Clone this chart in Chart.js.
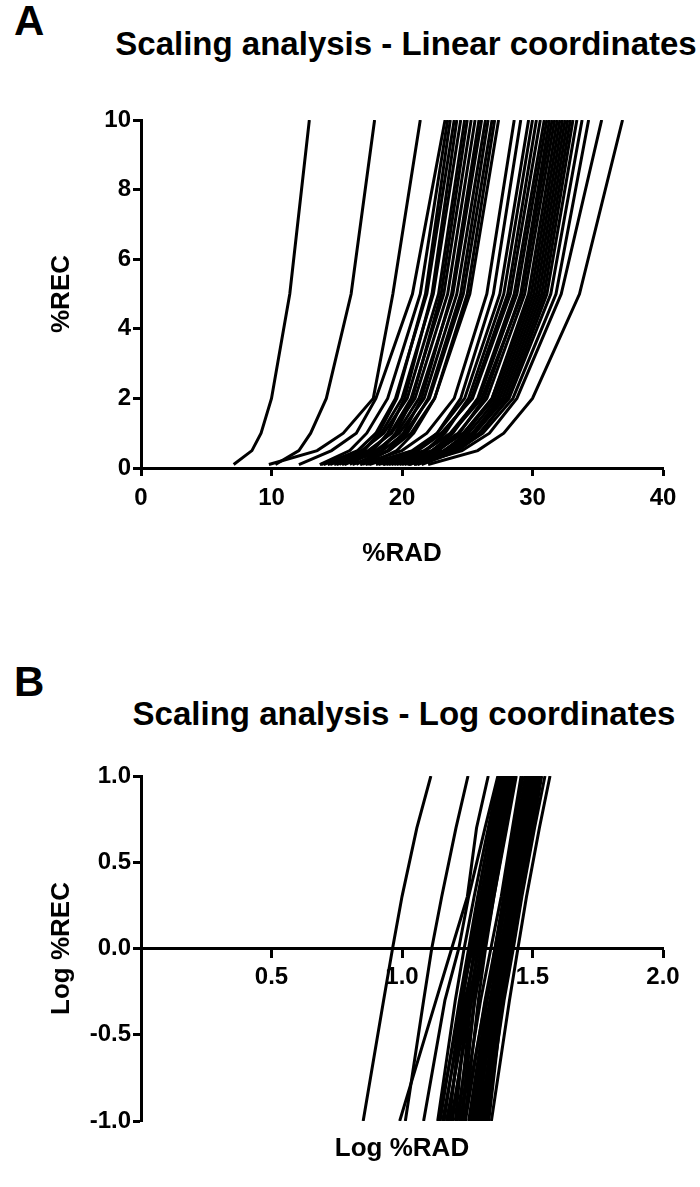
<!DOCTYPE html>
<html>
<head>
<script src="https://cdn.jsdelivr.net/npm/chart.js"></script>
<style>
  body { margin: 0; background: #fff; font-family: "Liberation Sans", Arial, sans-serif; color: #000; }
  #page { position: relative; width: 700px; height: 1187px; overflow: hidden; }
  .letter { position: absolute; left: 14px; font-weight: bold; font-size: 42px; line-height: 1; }
  .title { position: absolute; font-weight: bold; font-size: 33px; line-height: 1; white-space: nowrap; transform: translateX(-50%); }
  .box { position: absolute; left: 0; width: 700px; }
</style>
</head>
<body>
<div id="page">
  <div class="letter" style="top:0px">A</div>
  <div class="title" style="top:27px; left:406px">Scaling analysis - Linear coordinates</div>
  <div class="box" style="top:0px; height:600px"><canvas id="linear"></canvas></div>

  <div class="letter" style="top:661px">B</div>
  <div class="title" style="top:697px; left:404px">Scaling analysis - Log coordinates</div>
  <div class="box" style="top:600px; height:587px"><canvas id="log"></canvas></div>
</div>
<script>
  // %REC levels every curve was sampled at
  const recLevels = [0.1, 0.5, 1, 2, 5, 10];

  // %RAD at each level, one row per curve
  const isolatedCurves = [
    [7.1, 8.5, 9.2, 10.0, 11.4, 12.9],
    [10.3, 12.1, 13.0, 14.2, 16.1, 17.9],
    [9.8, 13.5, 15.5, 17.8, 19.3, 21.4],
    [12.1, 14.6, 16.5, 18.0, 20.8, 23.3],
  ];

  const leftBandCurves = [
    [13.7, 16.0, 17.3, 18.9, 21.4, 23.5],
    [15.2, 17.1, 18.2, 19.6, 21.8, 23.7],
    [14.0, 16.6, 18.0, 19.5, 21.9, 24.0],
    [16.0, 17.8, 18.9, 20.2, 22.3, 24.2],
    [14.5, 17.0, 18.4, 20.0, 22.4, 24.5],
    [13.8, 16.9, 18.6, 20.4, 22.8, 24.8],
    [16.5, 18.4, 19.5, 20.8, 23.0, 25.0],
    [15.0, 17.6, 19.1, 20.7, 23.2, 25.3],
    [14.3, 17.4, 19.2, 21.0, 23.5, 25.6],
    [17.0, 18.9, 20.1, 21.5, 23.8, 25.9],
    [15.6, 18.1, 19.6, 21.3, 23.9, 26.1],
    [14.8, 18.0, 19.8, 21.7, 24.2, 26.4],
    [16.8, 19.0, 20.4, 22.0, 24.5, 26.6],
    [15.4, 18.5, 20.2, 22.1, 24.7, 26.9],
    [17.4, 19.6, 20.9, 22.5, 25.0, 27.1],
    [16.2, 19.0, 20.7, 22.5, 25.2, 27.4],
  ];

  const rightBandCurves = [
    [16.8, 20.0, 21.9, 24.0, 26.5, 28.6],
    [18.5, 21.1, 22.7, 24.5, 27.0, 29.1],
    [17.5, 20.8, 22.7, 24.8, 27.5, 29.7],
    [19.2, 21.8, 23.3, 25.1, 27.8, 30.0],
    [18.0, 21.2, 23.1, 25.3, 28.1, 30.3],
    [17.2, 20.9, 23.0, 25.4, 28.3, 30.6],
    [19.6, 22.3, 23.9, 25.8, 28.6, 30.9],
    [18.6, 21.8, 23.7, 25.9, 28.8, 31.1],
    [20.2, 22.8, 24.4, 26.3, 29.1, 31.3],
    [18.2, 21.7, 23.8, 26.1, 29.2, 31.5],
    [19.0, 22.3, 24.3, 26.5, 29.4, 31.7],
    [20.6, 23.3, 24.9, 26.9, 29.7, 31.9],
    [19.4, 22.7, 24.7, 26.9, 29.9, 32.1],
    [18.8, 22.5, 24.7, 27.1, 30.1, 32.3],
    [20.0, 23.2, 25.1, 27.3, 30.3, 32.5],
    [21.2, 23.8, 25.4, 27.5, 30.5, 32.7],
    [19.8, 23.3, 25.4, 27.7, 30.7, 32.9],
    [20.4, 23.6, 25.6, 27.9, 30.9, 33.1],
    [21.5, 24.3, 26.0, 28.1, 31.1, 33.4],
    [20.5, 23.9, 25.9, 28.2, 31.4, 33.8],
    [20.9, 24.2, 26.2, 28.5, 31.8, 34.3],
    [21.0, 24.6, 26.7, 28.8, 32.2, 35.3],
    [22.0, 25.8, 27.8, 30.0, 33.6, 36.9],
  ];

  const linearXTicks = [0, 10, 20, 30, 40];
  const linearYTicks = [0, 2, 4, 6, 8, 10];
  const logXTicks = [0, 0.5, 1.0, 1.5, 2.0];
  const logYTicks = [-1.0, -0.5, 0.0, 0.5, 1.0];

  const allCurves = isolatedCurves.concat(leftBandCurves, rightBandCurves);

  Chart.defaults.font.family = "'Liberation Sans', Arial, sans-serif";
  Chart.defaults.color = "#000";

  const tickFont = { size: 24, weight: "bold" };
  const titleFont = { size: 26, weight: "bold" };
  const grid = { display: true, drawOnChartArea: false, drawTicks: true, tickLength: 8, tickWidth: 3, tickColor: "#000" };
  const border = { display: true, color: "#000", width: 3 };

  function makeDatasets(transform) {
    return allCurves.map((curve) => ({
      data: curve.map((rad, i) => ({ x: transform(rad), y: transform(recLevels[i]) })),
      showLine: true,
      borderColor: "#000",
      borderWidth: 3,
      pointRadius: 0,
      fill: false,
      tension: 0,
    }));
  }

  const plainOptions = {
    responsive: true,
    maintainAspectRatio: false,
    animation: false,
    events: [],
    plugins: { legend: { display: false }, tooltip: { enabled: false }, title: { display: false } },
  };

  new Chart("linear", {
    type: "scatter",
    data: { datasets: makeDatasets((v) => v) },
    options: {
      ...plainOptions,
      layout: { padding: { top: 120, right: 37, bottom: 0, left: 0 } },
      scales: {
        x: {
          type: "linear", min: 0, max: 40,
          afterBuildTicks: (s) => { s.ticks = linearXTicks.map((v) => ({ value: v })); },
          afterFit: (s) => { s.height = 132; },
          ticks: { font: tickFont, padding: 8, callback: (v) => v },
          grid, border,
          title: { display: true, text: "%RAD", font: titleFont, padding: { top: 0, bottom: 31 } },
        },
        y: {
          type: "linear", min: 0, max: 10,
          afterBuildTicks: (s) => { s.ticks = linearYTicks.map((v) => ({ value: v })); },
          afterFit: (s) => { s.width = 141; },
          ticks: { font: tickFont, padding: 2, callback: (v) => v },
          grid, border,
          title: { display: true, text: "%REC", font: titleFont, padding: { top: 46, bottom: 0 } },
        },
      },
    },
  });

  new Chart("log", {
    type: "scatter",
    data: { datasets: makeDatasets((v) => Math.log10(v)) },
    options: {
      ...plainOptions,
      layout: { padding: { top: 176, right: 37, bottom: 66, left: 0 } },
      scales: {
        x: {
          type: "linear", min: 0, max: 2, position: { y: 0 },
          afterBuildTicks: (s) => { s.ticks = logXTicks.map((v) => ({ value: v })); },
          afterFit: (s) => { s.height = 216; },
          ticks: { font: tickFont, padding: 6, callback: (v) => (v === 0 ? "" : v.toFixed(1)) },
          grid, border,
          title: { display: true, text: "Log %RAD", font: titleFont, padding: { top: 0, bottom: 0 } },
        },
        y: {
          type: "linear", min: -1, max: 1,
          afterBuildTicks: (s) => { s.ticks = logYTicks.map((v) => ({ value: v })); },
          afterFit: (s) => { s.width = 141; },
          ticks: { font: tickFont, padding: 2, callback: (v) => v.toFixed(1) },
          grid, border,
          title: { display: true, text: "Log %REC", font: titleFont, padding: { top: 46, bottom: 0 } },
        },
      },
    },
  });
</script>
</body>
</html>
